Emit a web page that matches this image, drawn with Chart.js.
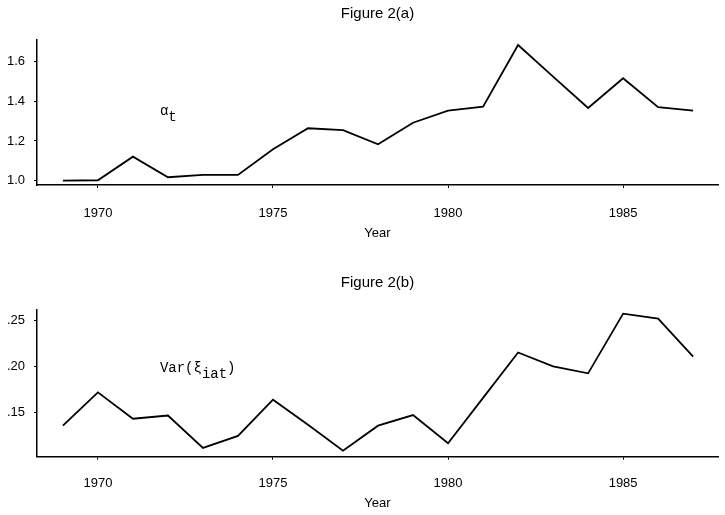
<!DOCTYPE html>
<html>
<head>
<meta charset="utf-8">
<script src="https://cdn.jsdelivr.net/npm/chart.js@4/dist/chart.umd.min.js"></script>
<style>
  html, body { margin: 0; padding: 0; background: #fff; }
  #wrap { position: relative; width: 725px; height: 515px; }
  canvas { position: absolute; left: 0; }
</style>
</head>
<body>
<div id="wrap">
  <canvas id="chartA" width="725" height="258" style="top:0"></canvas>
  <canvas id="chartB" width="725" height="257" style="top:258px"></canvas>
</div>
<script>
// data
const years = [1969, 1970, 1971, 1972, 1973, 1974, 1975, 1976, 1977, 1978,
               1979, 1980, 1981, 1982, 1983, 1984, 1985, 1986, 1987];
const alphaValues = [1.000, 1.002, 1.121, 1.017, 1.029, 1.029, 1.158, 1.264, 1.255, 1.183,
                     1.292, 1.353, 1.373, 1.684, 1.524, 1.366, 1.516, 1.370, 1.353];
const varValues = [0.136, 0.172, 0.1435, 0.147, 0.112, 0.125, 0.164, 0.137, 0.109, 0.136,
                   0.1475, 0.117, 0.166, 0.215, 0.200, 0.1925, 0.257, 0.2515, 0.2105];
const yearTicks = [1970, 1975, 1980, 1985];
const alphaTicks = [1.0, 1.2, 1.4, 1.6];
const varTicks = [0.15, 0.20, 0.25];

const SANS = '"Liberation Sans", Arial, Helvetica, sans-serif';
const MONO = '"Liberation Mono", "DejaVu Sans Mono", monospace';

// title above the plot and the in-plot label (with subscript part)
const figText = {
  id: 'figText',
  afterDraw(chart, args, opts) {
    const { ctx, chartArea, scales } = chart;
    ctx.save();
    ctx.fillStyle = '#000';
    ctx.font = '15px ' + SANS;
    ctx.textAlign = 'center';
    ctx.textBaseline = 'middle';
    ctx.fillText(opts.title, (chartArea.left + chartArea.right) / 2, opts.titleY);

    let x = scales.x.getPixelForValue(opts.labelAt[0]);
    const y = scales.y.getPixelForValue(opts.labelAt[1]);
    ctx.font = '14px ' + MONO;
    ctx.textAlign = 'left';
    ctx.textBaseline = 'alphabetic';
    opts.label.forEach(part => {
      ctx.fillText(part.text, x, y + (part.sub ? 6 : 0));
      x += ctx.measureText(part.text).width;
    });
    ctx.restore();
  }
};

function makeChart(id, cfg) {
  const ctx = document.getElementById(id).getContext('2d');
  return new Chart(ctx, {
    type: 'line',
    data: {
      datasets: [{
        data: years.map((yr, i) => ({ x: yr, y: cfg.values[i] })),
        borderColor: '#000',
        borderWidth: 1.8,
        pointRadius: 0,
        tension: 0,
        fill: false
      }]
    },
    options: {
      responsive: false,
      devicePixelRatio: 1,
      animation: false,
      layout: { padding: { top: cfg.top, right: 7, left: 0, bottom: 0 } },
      plugins: {
        legend: { display: false },
        tooltip: { enabled: false },
        figText: cfg.text
      },
      scales: {
        x: {
          type: 'linear',
          min: 1968.26,
          max: 1987.71,
          afterBuildTicks: s => { s.ticks = yearTicks.map(v => ({ value: v })); },
          afterFit: s => { s.height = cfg.xHeight; },
          ticks: {
            autoSkip: false,
            maxRotation: 0,
            padding: cfg.xPad,
            color: '#000',
            font: { family: SANS, size: 13 },
            callback: v => String(v)
          },
          grid: { drawOnChartArea: false, drawTicks: true, tickLength: 3, color: '#000', lineWidth: 1 },
          border: { display: true, color: '#000', width: 1.5 },
          title: {
            display: true,
            text: 'Year',
            color: '#000',
            font: { family: SANS, size: 13 },
            padding: { top: 0, bottom: cfg.titlePad }
          }
        },
        y: {
          type: 'linear',
          min: cfg.yMin,
          max: cfg.yMax,
          afterBuildTicks: s => { s.ticks = cfg.ticks.map(v => ({ value: v })); },
          afterFit: s => { s.width = 37; },
          ticks: {
            autoSkip: false,
            padding: 9,
            color: '#000',
            font: { family: SANS, size: 13 },
            callback: cfg.fmt
          },
          grid: { drawOnChartArea: false, drawTicks: true, tickLength: 3, color: '#000', lineWidth: 1 },
          border: { display: true, color: '#000', width: 1.5 }
        }
      }
    },
    plugins: [figText]
  });
}

makeChart('chartA', {
  values: alphaValues,
  ticks: alphaTicks,
  yMin: 0.978,
  yMax: 1.709,
  fmt: v => v.toFixed(1),
  top: 40,
  xHeight: 73,
  xPad: 18,
  titlePad: 17,
  text: {
    title: 'Figure 2(a)',
    titleY: 14,
    labelAt: [1971.77, 1.331],
    label: [{ text: 'α' }, { text: 't', sub: true }]
  }
});

makeChart('chartB', {
  values: varValues,
  ticks: varTicks,
  yMin: 0.1025,
  yMax: 0.2609,
  fmt: v => v.toFixed(2).replace(/^0/, ''),
  top: 52,
  xHeight: 58.3,
  xPad: 16,
  titlePad: 4,
  text: {
    title: 'Figure 2(b)',
    titleY: 25,
    labelAt: [1971.77, 0.194],
    label: [{ text: 'Var(ξ' }, { text: 'iat', sub: true }, { text: ')' }]
  }
});
</script>
</body>
</html>
